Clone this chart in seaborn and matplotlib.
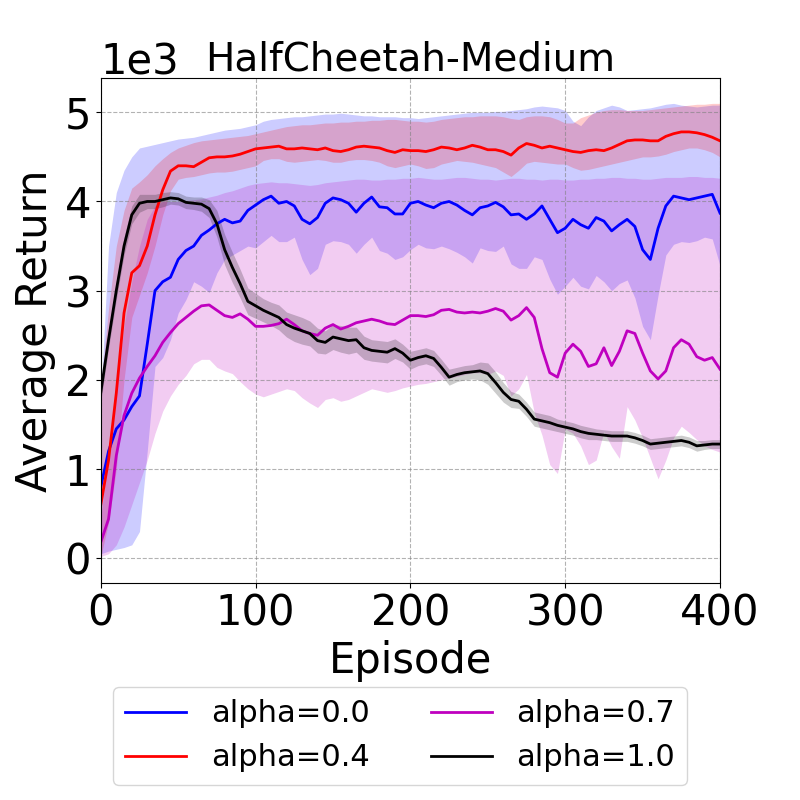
import numpy as np
import matplotlib
matplotlib.use("Agg")
import matplotlib.pyplot as plt
import seaborn as sns

# episodes sampled every 5 steps
episodes = list(range(0, 401, 5))

# values in thousands
blue_mean = [0.80, 1.20, 1.45, 1.55, 1.70, 1.82, 2.40, 3.00, 3.10, 3.15, 3.35, 3.45, 3.50, 3.62, 3.68, 3.75, 3.80, 3.76, 3.78, 3.90, 3.96,
             4.02, 4.06, 3.98, 4.00, 3.95, 3.80, 3.75, 3.82, 3.98, 4.04, 4.02, 3.98, 3.88, 3.98, 4.05, 3.94, 3.93, 3.86, 3.86, 3.98,
             4.00, 3.96, 3.93, 3.98, 4.00, 3.96, 3.90, 3.85, 3.93, 3.95, 3.99, 3.94, 3.85, 3.86, 3.80, 3.86, 3.95, 3.80, 3.65, 3.70,
             3.80, 3.74, 3.70, 3.82, 3.78, 3.67, 3.74, 3.80, 3.72, 3.46, 3.35, 3.70, 3.95, 4.06, 4.04, 4.02, 4.04, 4.06, 4.08, 3.87]
blue_lo = [0.05, 0.08, 0.10, 0.12, 0.15, 0.30, 1.20, 2.15, 2.25, 2.45, 2.75, 2.90, 3.10, 3.05, 2.98, 3.20, 3.35, 3.40, 3.45, 3.50, 3.48,
           3.55, 3.62, 3.55, 3.55, 3.60, 3.35, 3.18, 3.25, 3.52, 3.56, 3.55, 3.52, 3.42, 3.52, 3.60, 3.45, 3.42, 3.35, 3.38, 3.46,
           3.52, 3.48, 3.47, 3.50, 3.47, 3.43, 3.38, 3.31, 3.48, 3.45, 3.44, 3.50, 3.30, 3.25, 3.25, 3.38, 3.35, 3.13, 2.96, 3.05,
           3.15, 3.05, 3.02, 3.17, 3.10, 3.00, 3.08, 3.12, 2.92, 2.60, 2.45, 2.95, 3.40, 3.52, 3.55, 3.54, 3.56, 3.60, 3.58, 3.28]
blue_hi = [1.80, 3.50, 4.10, 4.35, 4.50, 4.60, 4.62, 4.64, 4.66, 4.68, 4.70, 4.71, 4.72, 4.74, 4.76, 4.78, 4.80, 4.81, 4.82, 4.84, 4.86,
           4.90, 4.92, 4.93, 4.94, 4.95, 4.95, 4.96, 4.97, 4.98, 4.98, 4.99, 4.98, 4.97, 4.96, 4.96, 4.95, 4.95, 4.95, 4.94, 4.94,
           4.93, 4.94, 4.95, 4.96, 4.97, 4.98, 4.99, 5.00, 5.00, 5.00, 5.01, 5.01, 5.02, 5.03, 5.04, 5.06, 5.07, 5.06, 5.05, 5.02,
           4.90, 4.85, 4.95, 5.02, 5.05, 5.08, 5.06, 5.02, 5.03, 5.04, 5.05, 5.07, 5.09, 5.10, 5.08, 5.07, 5.06, 5.07, 5.08, 5.08]

red_mean = [0.60, 1.10, 1.85, 2.75, 3.20, 3.28, 3.50, 3.85, 4.13, 4.34, 4.40, 4.40, 4.39, 4.44, 4.49, 4.50, 4.50, 4.51, 4.53, 4.56, 4.59,
            4.60, 4.61, 4.62, 4.59, 4.59, 4.60, 4.59, 4.58, 4.60, 4.57, 4.56, 4.58, 4.61, 4.62, 4.61, 4.60, 4.57, 4.55, 4.58, 4.57,
            4.57, 4.56, 4.58, 4.61, 4.60, 4.58, 4.60, 4.63, 4.61, 4.58, 4.58, 4.56, 4.52, 4.60, 4.65, 4.63, 4.60, 4.62, 4.60, 4.58,
            4.56, 4.55, 4.57, 4.58, 4.57, 4.60, 4.64, 4.68, 4.69, 4.69, 4.68, 4.68, 4.73, 4.76, 4.78, 4.78, 4.77, 4.75, 4.72, 4.68]
red_lo = [0.02, 0.40, 1.00, 2.00, 2.70, 2.95, 3.20, 3.50, 3.85, 4.12, 4.25, 4.27, 4.28, 4.30, 4.32, 4.33, 4.33, 4.34, 4.36, 4.38, 4.40,
          4.46, 4.48, 4.48, 4.45, 4.44, 4.45, 4.46, 4.47, 4.46, 4.44, 4.44, 4.46, 4.47, 4.47, 4.46, 4.44, 4.40, 4.38, 4.40, 4.42,
          4.40, 4.37, 4.38, 4.42, 4.44, 4.46, 4.45, 4.44, 4.42, 4.40, 4.38, 4.33, 4.28, 4.35, 4.43, 4.45, 4.44, 4.43, 4.42, 4.42,
          4.38, 4.35, 4.36, 4.38, 4.40, 4.42, 4.44, 4.46, 4.48, 4.50, 4.50, 4.51, 4.53, 4.56, 4.58, 4.60, 4.60, 4.58, 4.55, 4.50]
red_hi = [1.90, 2.80, 3.50, 3.90, 4.15, 4.22, 4.30, 4.40, 4.48, 4.55, 4.60, 4.63, 4.66, 4.68, 4.69, 4.70, 4.71, 4.72, 4.73, 4.74, 4.76,
          4.78, 4.80, 4.82, 4.84, 4.85, 4.86, 4.86, 4.87, 4.88, 4.88, 4.89, 4.89, 4.90, 4.90, 4.91, 4.91, 4.92, 4.92, 4.91, 4.90,
          4.90, 4.89, 4.90, 4.92, 4.93, 4.94, 4.95, 4.95, 4.96, 4.96, 4.96, 4.95, 4.93, 4.92, 4.95, 4.96, 4.96, 4.95, 4.92, 4.88,
          4.88, 4.94, 4.97, 5.00, 5.02, 5.03, 5.03, 5.02, 5.02, 5.02, 5.03, 5.04, 5.05, 5.06, 5.07, 5.08, 5.09, 5.09, 5.10, 5.10]

mag_mean = [0.18, 0.44, 1.15, 1.60, 1.85, 2.02, 2.15, 2.27, 2.42, 2.53, 2.63, 2.70, 2.77, 2.83, 2.84, 2.78, 2.72, 2.70, 2.74, 2.68, 2.60,
            2.60, 2.61, 2.63, 2.68, 2.62, 2.55, 2.52, 2.50, 2.58, 2.62, 2.57, 2.60, 2.64, 2.66, 2.68, 2.66, 2.63, 2.62, 2.67, 2.72,
            2.72, 2.71, 2.73, 2.78, 2.79, 2.76, 2.75, 2.76, 2.75, 2.77, 2.80, 2.77, 2.67, 2.72, 2.81, 2.70, 2.35, 2.08, 2.03, 2.30,
            2.40, 2.32, 2.15, 2.18, 2.36, 2.16, 2.32, 2.55, 2.52, 2.30, 2.10, 2.01, 2.10, 2.36, 2.45, 2.40, 2.26, 2.22, 2.25, 2.12]
mag_lo = [0.02, 0.05, 0.15, 0.35, 0.60, 0.85, 1.10, 1.40, 1.65, 1.82, 1.95, 2.05, 2.18, 2.23, 2.23, 2.14, 2.10, 2.07, 1.98, 1.90, 1.84,
          1.81, 1.84, 1.87, 1.90, 1.88, 1.80, 1.74, 1.69, 1.78, 1.80, 1.76, 1.78, 1.82, 1.86, 1.90, 1.88, 1.86, 1.88, 1.91, 1.93,
          1.95, 1.96, 1.98, 2.00, 2.02, 2.04, 2.06, 2.08, 2.08, 2.06, 2.10, 2.05, 1.82, 1.90, 2.06, 1.63, 1.38, 1.05, 0.95, 1.45,
          1.40, 1.26, 1.05, 1.10, 1.42, 1.25, 1.12, 1.70, 1.55, 1.35, 1.12, 0.89, 1.10, 1.35, 1.48, 1.41, 1.33, 1.26, 1.22, 1.19]
mag_hi = [0.45, 1.20, 1.90, 2.60, 3.10, 3.50, 3.80, 3.95, 4.00, 4.00, 4.00, 4.01, 4.02, 4.03, 4.05, 4.07, 4.10, 4.12, 4.15, 4.18, 4.20,
          4.21, 4.22, 4.21, 4.21, 4.20, 4.19, 4.18, 4.19, 4.21, 4.22, 4.23, 4.24, 4.25, 4.25, 4.24, 4.24, 4.25, 4.25, 4.26, 4.26,
          4.27, 4.26, 4.25, 4.25, 4.26, 4.27, 4.27, 4.26, 4.25, 4.25, 4.24, 4.25, 4.26, 4.26, 4.25, 4.25, 4.24, 4.25, 4.25, 4.24,
          4.24, 4.25, 4.25, 4.26, 4.26, 4.27, 4.27, 4.26, 4.26, 4.25, 4.25, 4.26, 4.27, 4.27, 4.27, 4.28, 4.28, 4.27, 4.27, 4.26]

black_mean = [1.86, 2.45, 3.00, 3.50, 3.85, 3.98, 4.00, 4.00, 4.02, 4.04, 4.03, 3.99, 3.98, 3.97, 3.92, 3.75, 3.46, 3.26, 3.08, 2.88, 2.83,
              2.78, 2.74, 2.70, 2.62, 2.58, 2.55, 2.52, 2.44, 2.42, 2.48, 2.46, 2.44, 2.45, 2.36, 2.33, 2.32, 2.31, 2.35, 2.30, 2.22,
              2.25, 2.27, 2.24, 2.14, 2.03, 2.06, 2.08, 2.09, 2.10, 2.07, 1.97, 1.86, 1.78, 1.76, 1.67, 1.56, 1.54, 1.52, 1.49, 1.47,
              1.45, 1.42, 1.40, 1.39, 1.38, 1.37, 1.37, 1.37, 1.35, 1.32, 1.28, 1.29, 1.30, 1.31, 1.32, 1.30, 1.26, 1.27, 1.28, 1.28]
black_spread = [0.10, 0.10, 0.10, 0.10, 0.10, 0.10, 0.08, 0.08, 0.08, 0.07, 0.07, 0.07, 0.07, 0.08, 0.10, 0.15, 0.17, 0.17, 0.16, 0.15, 0.14,
                0.13, 0.13, 0.14, 0.14, 0.15, 0.15, 0.14, 0.14, 0.13, 0.14, 0.15, 0.15, 0.14, 0.13, 0.12, 0.12, 0.12, 0.11, 0.10, 0.10,
                0.09, 0.09, 0.09, 0.09, 0.09, 0.08, 0.08, 0.08, 0.10, 0.12, 0.12, 0.11, 0.09, 0.08, 0.08, 0.08, 0.08, 0.08, 0.07, 0.07,
                0.07, 0.07, 0.07, 0.06, 0.06, 0.06, 0.06, 0.06, 0.06, 0.06, 0.06, 0.06, 0.06, 0.06, 0.06, 0.06, 0.06, 0.05, 0.05, 0.05]

labels = ["alpha=0.0", "alpha=0.4", "alpha=0.7", "alpha=1.0"]
colors = ["b", "r", "m", "k"]

x = np.array(episodes)
black_mean_a = np.array(black_mean)
black_spread_a = np.array(black_spread)
series = [
    (blue_mean, blue_lo, blue_hi),
    (red_mean, red_lo, red_hi),
    (mag_mean, mag_lo, mag_hi),
    (black_mean, black_mean_a - black_spread_a, black_mean_a + black_spread_a),
]

fig = plt.figure(figsize=(8, 8), dpi=100)
ax = fig.add_axes([0.126, 0.271, 0.774, 0.631])

# mean curve + shaded band for each alpha
for (mean, lo, hi), lab, col in zip(series, labels, colors):
    sns.lineplot(x=x, y=np.array(mean) * 1000, color=col, linewidth=2, label=lab, ax=ax)
    ax.fill_between(x, np.array(lo) * 1000, np.array(hi) * 1000, color=col, alpha=0.2, linewidth=0)

ax.set_xlim(0, 400)
ax.set_ylim(-280, 5380)
ax.set_xticks([0, 100, 200, 300, 400])
ax.set_yticks([0, 1000, 2000, 3000, 4000, 5000])
ax.ticklabel_format(axis="y", style="sci", scilimits=(3, 3))
ax.tick_params(labelsize=30)
ax.yaxis.get_offset_text().set_fontsize(30)
ax.grid(True, linestyle="--", color="gray", alpha=0.6)

ax.set_xlabel("Episode", fontsize=30)
ax.set_ylabel("Average Return", fontsize=30, labelpad=6)
ax.set_title("HalfCheetah-Medium", fontsize=28)

handles, labs = ax.get_legend_handles_labels()
ax.get_legend().remove()
fig.legend(handles, labs, loc="lower center", ncol=2, fontsize=22)

fig.savefig("out.png", dpi=100)
